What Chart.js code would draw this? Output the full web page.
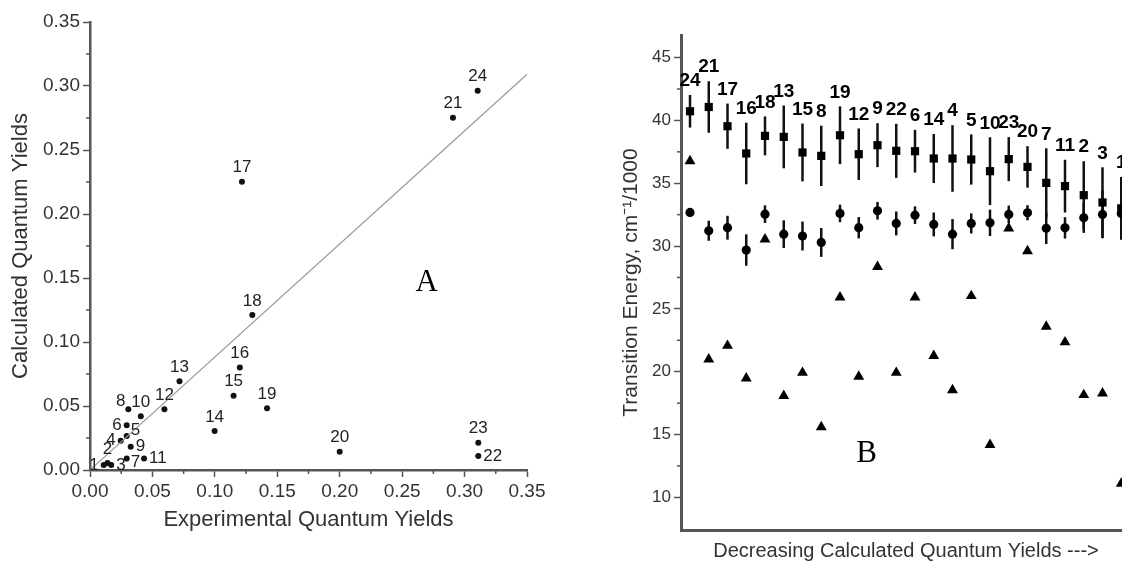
<!DOCTYPE html>
<html><head><meta charset="utf-8">
<script src="https://cdn.jsdelivr.net/npm/chart.js@4.4.1/dist/chart.umd.min.js"></script>
<style>
html,body{margin:0;padding:0;width:1122px;height:563px;overflow:hidden;background:#fff;}
#a{position:absolute;left:0;top:0;}
#b{position:absolute;left:600px;top:0;}
</style></head><body>
<canvas id="a" width="560" height="563"></canvas>
<canvas id="b" width="560" height="563"></canvas>
<script>
// ---------- Panel A data ----------
const compoundIds = ['1','2','3','4','5','6','7','8','9','10','11','12','13','14','15','16','17','18','19','20','21','22','23','24'];
const expYield  = [0.011,0.014,0.017,0.0246,0.0294,0.0294,0.0294,0.0307,0.0326,0.0407,0.0433,0.0596,0.0717,0.0998,0.115,0.120,0.1217,0.130,0.1418,0.200,0.2907,0.311,0.311,0.3105];
const calcYield = [0.004,0.0055,0.004,0.0229,0.0266,0.035,0.009,0.0474,0.0182,0.042,0.009,0.0474,0.0693,0.0305,0.058,0.080,0.2252,0.121,0.0482,0.0143,0.2752,0.0109,0.0213,0.2963];
const labelSide = ['w','n','e','w','ne','w','se','nw','e','n','e','n','n','n','n','n','n','n','n','n','n','e','n','n'];
const fitX = [0.0, 0.351];
const fitY = [0.0, 0.310];
const panelAMark = [0.2696, 0.1465];

// ---------- Panel B data ----------
const orderB = ['24','21','17','16','18','13','15','8','19','12','9','22','6','14','4','5','10','23','20','7','11','2','3','1'];
const squareEnergy = [40.73,41.07,39.54,37.37,38.77,38.69,37.45,37.18,38.82,37.31,38.03,37.58,37.55,36.97,36.97,36.89,35.96,36.92,36.30,35.03,34.77,34.05,33.47,33.00];
const squareErr    = [1.30,2.05,1.80,2.45,1.55,2.50,2.30,2.40,2.30,2.05,1.75,2.15,1.70,1.95,2.65,2.00,2.70,1.75,1.65,2.75,2.10,2.70,2.80,2.50];
const circleEnergy = [32.68,31.22,31.46,29.68,32.54,30.95,30.80,30.29,32.60,31.46,32.81,31.80,32.46,31.72,30.95,31.80,31.85,32.52,32.65,31.41,31.45,32.25,32.52,32.60];
const circleErr    = [0.30,0.80,0.95,1.25,0.70,1.10,1.15,1.15,0.70,0.85,0.70,0.95,0.70,0.95,1.20,0.80,1.05,0.70,0.60,1.25,0.85,1.20,1.90,1.85];
const triangleEnergy = [36.76,20.99,22.07,19.48,30.53,18.08,19.92,15.59,25.92,19.61,28.35,19.92,25.92,21.26,18.53,26.03,14.18,31.41,29.60,23.59,22.35,18.15,18.28,11.10];
const panelBMark = [9.42, 13.43];

const FONT = "'Liberation Sans', Arial, Helvetica, sans-serif";
const AXIS = '#555';
const TXT = '#333';

function minorTicks(id, specs){
  return {id, afterDraw(chart){
    const ctx = chart.ctx; ctx.save();
    ctx.strokeStyle = AXIS; ctx.lineWidth = 1.5;
    specs.forEach(s=>{
      const sc = chart.scales[s.scale];
      for (let v = s.from; v <= s.to + 1e-9; v += s.step){
        const p = sc.getPixelForValue(v);
        ctx.beginPath();
        if (sc.isHorizontal()){ ctx.moveTo(p, sc.top); ctx.lineTo(p, sc.top + s.len); }
        else { ctx.moveTo(sc.right - s.len, p); ctx.lineTo(sc.right, p); }
        ctx.stroke();
      }
    });
    ctx.restore();
  }};
}

const pointLabelsA = {
  id:'pointLabelsA',
  afterDatasetsDraw(chart){
    const {ctx, scales:{x,y}} = chart;
    ctx.save();
    ctx.font = '17px ' + FONT; ctx.fillStyle = '#222'; ctx.textBaseline = 'middle';
    compoundIds.forEach((id,i)=>{
      const px = x.getPixelForValue(expYield[i]), py = y.getPixelForValue(calcYield[i]);
      let dx=0, dy=0, al='center';
      switch(labelSide[i]){
        case 'n': dy=-14; break;
        case 'e': dx=5; al='left'; break;
        case 'w': dx=-5; al='right'; break;
        case 'ne': dx=4; dy=-6; al='left'; break;
        case 'nw': dx=-3; dy=-8; al='right'; break;
        case 'se': dx=4; dy=4; al='left'; break;
      }
      ctx.textAlign = al;
      ctx.fillText(id, px+dx, py+dy);
    });
    ctx.font = '31px "Liberation Serif", "Times New Roman", serif';
    ctx.fillStyle = '#000'; ctx.textAlign = 'center';
    ctx.fillText('A', x.getPixelForValue(panelAMark[0]), y.getPixelForValue(panelAMark[1]));
    ctx.restore();
  }
};

new Chart(document.getElementById('a'), {
  type:'scatter',
  data:{datasets:[
    {data: fitX.map((v,i)=>({x:v,y:fitY[i]})), type:'line', showLine:true, borderColor:'#9a9a9a', borderWidth:1.2, pointRadius:0, fill:false},
    {data: expYield.map((v,i)=>({x:v,y:calcYield[i]})), pointRadius:3, pointBackgroundColor:'#111', pointBorderWidth:0}
  ]},
  options:{
    responsive:false, animation:false, devicePixelRatio:1,
    layout:{padding:{top:22,right:33,left:0,bottom:0}},
    plugins:{legend:{display:false}, tooltip:{enabled:false}},
    scales:{
      x:{type:'linear', min:0, max:0.35,
        ticks:{stepSize:0.05, font:{size:19,family:FONT}, color:TXT, padding:3, maxRotation:0, callback:v=>v.toFixed(2)},
        grid:{drawOnChartArea:false, tickLength:7, tickColor:AXIS, tickWidth:1.5},
        border:{color:AXIS, width:2.5},
        title:{display:true, text:'Experimental Quantum Yields', font:{size:22,family:FONT}, color:TXT, padding:{top:0,bottom:30}},
        afterFit(s){ s.height = 93; }
      },
      y:{type:'linear', min:0, max:0.35,
        ticks:{stepSize:0.05, font:{size:19,family:FONT}, color:TXT, padding:3, callback:v=>v.toFixed(2)},
        grid:{drawOnChartArea:false, tickLength:7, tickColor:AXIS, tickWidth:1.5},
        border:{color:AXIS, width:2.5},
        title:{display:true, text:'Calculated Quantum Yields', font:{size:22,family:FONT}, color:TXT, padding:{top:8,bottom:0}},
        afterFit(s){ s.width = 90; }
      }
    }
  },
  plugins:[pointLabelsA, minorTicks('minorA', [
    {scale:'x', from:0.025, to:0.325, step:0.05, len:4},
    {scale:'y', from:0.025, to:0.325, step:0.05, len:4}
  ])]
});

const errorBarsB = {
  id:'errorBarsB',
  beforeDatasetsDraw(chart){
    const {ctx, scales:{x,y}} = chart;
    ctx.save(); ctx.strokeStyle = '#111'; ctx.lineWidth = 2.5;
    const bars = (vals, errs)=> vals.forEach((v,i)=>{
      const px = x.getPixelForValue(i);
      ctx.beginPath();
      ctx.moveTo(px, y.getPixelForValue(v+errs[i]));
      ctx.lineTo(px, y.getPixelForValue(v-errs[i]));
      ctx.stroke();
    });
    bars(squareEnergy, squareErr);
    bars(circleEnergy, circleErr);
    ctx.restore();
  },
  afterDatasetsDraw(chart){
    const {ctx, scales:{x,y}} = chart;
    ctx.save();
    ctx.font = 'bold 19px ' + FONT; ctx.fillStyle = '#000';
    ctx.textAlign = 'center'; ctx.textBaseline = 'middle';
    orderB.forEach((id,i)=>{
      ctx.fillText(id, x.getPixelForValue(i), y.getPixelForValue(squareEnergy[i]+squareErr[i]) - 14);
    });
    ctx.font = '31px "Liberation Serif", "Times New Roman", serif';
    ctx.fillText('B', x.getPixelForValue(panelBMark[0]), y.getPixelForValue(panelBMark[1]));
    ctx.restore();
  }
};

const idx = orderB.map((_,i)=>i);
new Chart(document.getElementById('b'), {
  type:'scatter',
  data:{datasets:[
    {data: idx.map(i=>({x:i,y:squareEnergy[i]})), pointStyle:'rect', pointRadius:5.8, pointBackgroundColor:'#000', pointBorderWidth:0},
    {data: idx.map(i=>({x:i,y:circleEnergy[i]})), pointStyle:'circle', pointRadius:4.6, pointBackgroundColor:'#000', pointBorderWidth:0},
    {data: idx.map(i=>({x:i,y:triangleEnergy[i]})), pointStyle:'triangle', pointRadius:6.3, pointBackgroundColor:'#000', pointBorderWidth:0}
  ]},
  options:{
    responsive:false, animation:false, devicePixelRatio:1,
    layout:{padding:{top:35,right:29,left:0,bottom:0}},
    plugins:{legend:{display:false}, tooltip:{enabled:false}},
    scales:{
      x:{type:'linear', min:-0.48, max:23.52,
        ticks:{display:false},
        grid:{display:false, drawTicks:false},
        border:{display:true, color:AXIS, width:3},
        title:{display:true, text:'Decreasing Calculated Quantum Yields --->', font:{size:20,family:FONT}, color:TXT, padding:{top:0,bottom:0}},
        afterFit(s){ s.height = 33; }
      },
      y:{type:'linear', min:7.4, max:46.8,
        ticks:{stepSize:5, includeBounds:false, font:{size:17,family:FONT}, color:TXT, padding:3},
        grid:{drawOnChartArea:false, tickLength:7, tickColor:AXIS, tickWidth:1.5},
        border:{color:AXIS, width:3},
        title:{display:true, text:'Transition Energy, cm⁻¹/1000', font:{size:21,family:FONT}, color:TXT, padding:{top:19,bottom:0}},
        afterFit(s){ s.width = 81; }
      }
    }
  },
  plugins:[errorBarsB, minorTicks('minorB', [
    {scale:'y', from:12.5, to:42.5, step:5, len:4}
  ])]
});
</script>
</body></html>
